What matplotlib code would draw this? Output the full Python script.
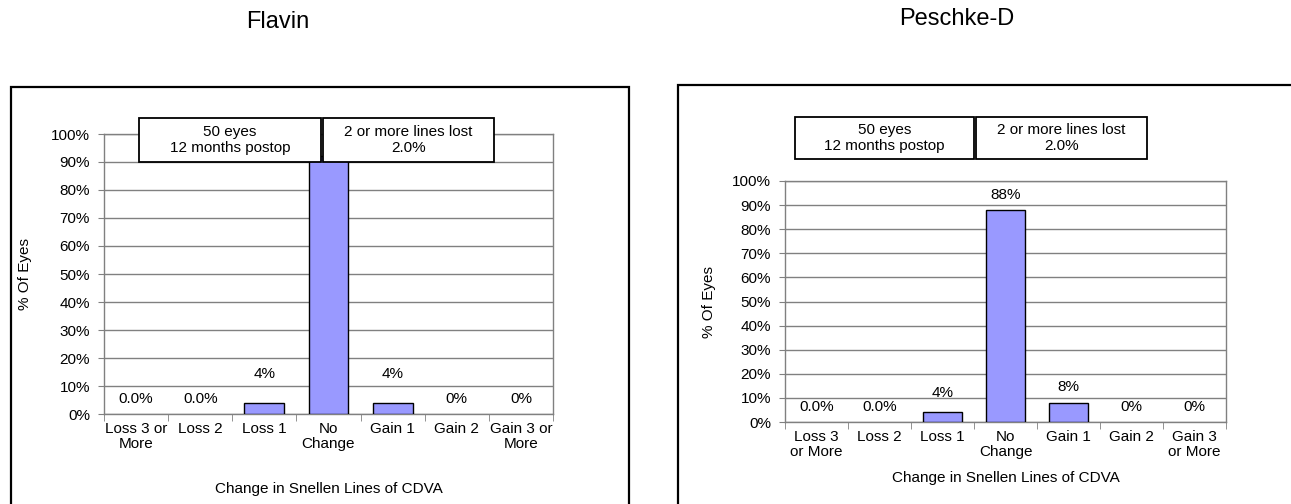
"""
Two bar charts: change in Snellen lines of CDVA (Flavin vs Peschke-D).
"""

import matplotlib.pyplot as plt
from matplotlib.patches import Rectangle

plt.rcParams['font.family'] = ['Liberation Sans', 'DejaVu Sans']

# Data
cats_flavin = ['Loss 3 or\nMore', 'Loss 2', 'Loss 1', 'No\nChange', 'Gain 1', 'Gain 2', 'Gain 3 or\nMore']
cats_peschke = ['Loss 3\nor More', 'Loss 2', 'Loss 1', 'No\nChange', 'Gain 1', 'Gain 2', 'Gain 3\nor More']
flavin_vals = [0, 0, 4, 92, 4, 0, 0]
peschke_vals = [0, 0, 4, 88, 8, 0, 0]
flavin_labels = ['0.0%', '0.0%', '4%', '', '4%', '0%', '0%']
peschke_labels = ['0.0%', '0.0%', '4%', '88%', '8%', '0%', '0%']
box_left_text = '50 eyes\n12 months postop'
box_right_text = '2 or more lines lost\n2.0%'

W, H = 1291, 504
FS = 11
fig = plt.figure(figsize=(W / 100, H / 100), dpi=100)


def px_rect(l, t, r, b):
    return [l / W, 1 - b / H, (r - l) / W, (b - t) / H]


def draw_panel(title, title_x, title_y, frame, plot, boxes, cats, vals, labels,
               offsets, ylab_x, xlab_y):
    # outer frame
    l, t, r, b = frame
    fig.patches.append(Rectangle((l / W, 1 - b / H), (r - l) / W, (b - t) / H,
                                 transform=fig.transFigure, fill=False,
                                 edgecolor='black', lw=1.6, zorder=0.5))
    fig.text(title_x / W, 1 - title_y / H, title, ha='center', va='center', fontsize=17)

    ax = fig.add_axes(px_rect(*plot))
    x = range(len(vals))
    ax.bar(x, vals, width=0.62, color='#9999FF', edgecolor='black',
           lw=[1.0 if v > 0 else 0 for v in vals], zorder=3)
    for i, (v, lab, off) in enumerate(zip(vals, labels, offsets)):
        if lab:
            ax.annotate(lab, (i, v), xytext=(0, off), textcoords='offset points',
                        ha='center', va='center', fontsize=FS)
    ax.set_xlim(-0.5, len(vals) - 0.5)
    ax.set_ylim(0, 100)
    ax.set_yticks(range(0, 101, 10))
    ax.set_yticklabels([f'{v}%' for v in range(0, 101, 10)], fontsize=FS)
    ax.yaxis.grid(True, color='#808080', lw=1.0, zorder=0)
    ax.set_xticks(list(x))
    ax.set_xticklabels(cats, fontsize=FS, linespacing=1.05)
    ax.set_xticks([i - 0.5 for i in range(len(vals) + 1)], minor=True)
    ax.tick_params(axis='x', which='major', length=0, pad=6)
    ax.tick_params(axis='x', which='minor', length=5, color='#808080')
    ax.tick_params(axis='y', length=4, color='#808080', pad=6)
    for s in ax.spines.values():
        s.set_color('#808080')
        s.set_linewidth(1.0)

    fig.text(ylab_x / W, 1 - ((plot[1] + plot[3]) / 2) / H, '% Of Eyes',
             rotation=90, ha='center', va='center', fontsize=FS)
    fig.text(((plot[0] + plot[2]) / 2) / W, 1 - xlab_y / H,
             'Change in Snellen Lines of CDVA', ha='center', va='center', fontsize=FS)

    for (bl, bt, br, bb), txt in zip(boxes, [box_left_text, box_right_text]):
        fig.patches.append(Rectangle((bl / W, 1 - bb / H), (br - bl) / W, (bb - bt) / H,
                                     transform=fig.transFigure, facecolor='white',
                                     edgecolor='black', lw=1.3, zorder=4))
        fig.text((bl + br) / 2 / W, 1 - (bt + bb) / 2 / H, txt, ha='center', va='center',
                 fontsize=FS, linespacing=1.15, zorder=5)


draw_panel('Flavin', 278, 22, (11, 87, 629, 520), (104, 134, 553, 414),
           [(139, 118, 321, 162), (323, 118, 494, 162)],
           cats_flavin, flavin_vals, flavin_labels,
           [11, 11, 21, 0, 21, 11, 11], 25, 489)

draw_panel('Peschke-D', 957, 19, (678, 85, 1300, 520), (785, 181, 1226, 422),
           [(795, 117, 974, 159), (976, 117, 1147, 159)],
           cats_peschke, peschke_vals, peschke_labels,
           [11, 11, 14, 11, 11, 11, 11], 709, 478)

plt.savefig('out.png', dpi=100)
